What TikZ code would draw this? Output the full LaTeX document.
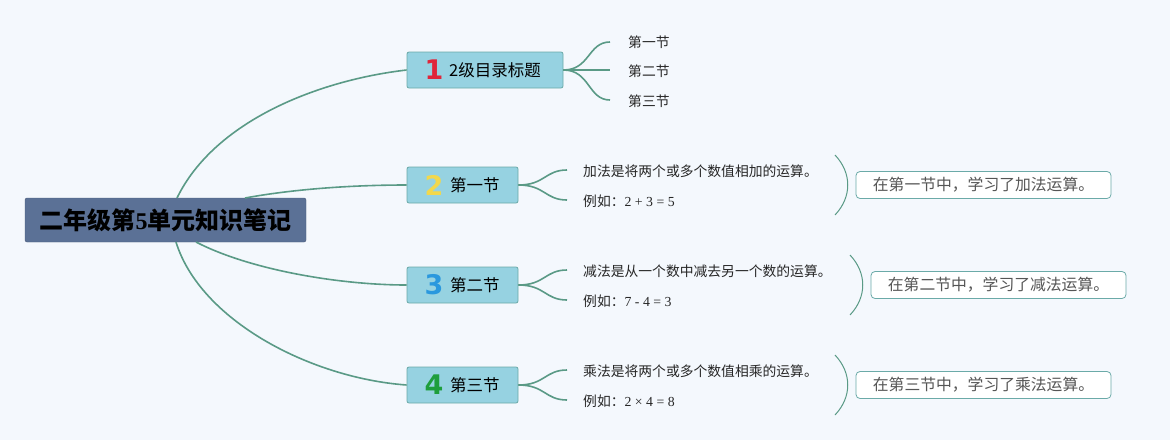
\documentclass[tikz,border=0pt]{standalone}
\usepackage{fontspec}
\setmainfont{Noto Sans CJK SC}
\newfontfamily\cjk{Noto Sans CJK SC}
\newfontfamily\numfont{Liberation Serif}
\newfontfamily\badge{DejaVu Sans}
\definecolor{bg}{HTML}{F4F8FD}
\definecolor{rootfill}{HTML}{5B7196}
\definecolor{boxfill}{HTML}{96D2E1}
\definecolor{boxline}{HTML}{6BAAA8}
\definecolor{link}{HTML}{5A9A86}
\definecolor{sumtext}{HTML}{555555}
\definecolor{nred}{HTML}{E0253A}
\definecolor{nyellow}{HTML}{F2D84C}
\definecolor{nblue}{HTML}{2A98DE}
\definecolor{ngreen}{HTML}{1E9E3C}
\begin{document}
\begin{tikzpicture}[x=1pt,y=-1pt,
  rootbox/.style={fill=rootfill,draw=rootfill!80!black,rounded corners=2pt,minimum width=281pt,minimum height=44pt,inner sep=0pt,font=\cjk\fontsize{24}{27}\selectfont\bfseries},
  topicbox/.style={fill=boxfill,draw=boxline,line width=0.8pt,rounded corners=2pt,minimum height=36pt,inner sep=0pt,font=\cjk\fontsize{16.5}{19}\selectfont},
  sub/.style={anchor=west,inner sep=0pt,font=\cjk\fontsize{13.8}{16}\selectfont,text=black!85},
  sumbox/.style={draw=boxline,fill=white,line width=0.8pt,rounded corners=4pt,minimum width=255pt,minimum height=27pt,inner sep=0pt,font=\cjk\fontsize{15.8}{18}\selectfont,text=sumtext},
  conn/.style={draw=link,line width=1.6pt},
  brace/.style={draw=link,line width=1pt},
  num/.style={font=\badge\fontsize{27}{30}\selectfont\bfseries}]
\fill[bg] (0,0) rectangle (1170,440);
\useasboundingbox (0,0) rectangle (1170,440);

% root
\node[rootbox] (root) at (165.5,220) {二年级第{\numfont\bfseries 5}单元知识笔记};

% topic boxes
\node[topicbox,minimum width=156pt] (t1) at (485,70) {};
\node[num,text=nred] at (434,70) {1};
\node[anchor=west,inner sep=0pt,font=\cjk\fontsize{16.5}{19}\selectfont] at (449,70) {2级目录标题};

\node[topicbox,minimum width=111pt] (t2) at (462.5,185) {};
\node[num,text=nyellow] at (434,185) {2};
\node[anchor=west,inner sep=0pt,font=\cjk\fontsize{16.5}{19}\selectfont] at (450,185) {第一节};

\node[topicbox,minimum width=111pt] (t3) at (462.5,285) {};
\node[num,text=nblue] at (434,285) {3};
\node[anchor=west,inner sep=0pt,font=\cjk\fontsize{16.5}{19}\selectfont] at (450,285) {第二节};

\node[topicbox,minimum width=111pt] (t4) at (462.5,385) {};
\node[num,text=ngreen] at (434,385) {4};
\node[anchor=west,inner sep=0pt,font=\cjk\fontsize{16.5}{19}\selectfont] at (450,385) {第三节};

% root connectors
\coordinate (r1) at (177,198);
\coordinate (r2) at (245,198);
\coordinate (r3) at (196,242);
\coordinate (r4) at (176,242);
\path[conn] (r1) .. controls (215,120) and (320,80) .. (t1.west);
\path[conn] (r2) .. controls (300,188) and (360,185) .. (t2.west);
\path[conn] (r3) .. controls (250,270) and (340,285) .. (t3.west);
\path[conn] (r4) .. controls (200,320) and (310,378) .. (t4.west);

% topic 1 subtopics
\node[sub] (s11) at (628,42) {第一节};
\node[sub] (s12) at (628,71) {第二节};
\node[sub] (s13) at (628,101) {第三节};
\coordinate (e11) at (610,42);
\coordinate (e12) at (610,70);
\coordinate (e13) at (610,100);
\path[conn] (t1.east) .. controls (590,70) and (588,42) .. (e11);
\path[conn] (t1.east) -- (e12);
\path[conn] (t1.east) .. controls (590,70) and (588,100) .. (e13);

% topic 2..4 details
\foreach \t/\y/\a/\b/\s/\bx in {
  2/185/加法是将两个或多个数值相加的运算。/{例如：{\numfont 2 + 3 = 5}}/在第一节中，学习了加法运算。/835,
  3/285/减法是从一个数中减去另一个数的运算。/{例如：{\numfont 7 - 4 = 3}}/在第二节中，学习了减法运算。/850,
  4/385/乘法是将两个或多个数值相乘的运算。/{例如：{\numfont 2 × 4 = 8}}/在第三节中，学习了乘法运算。/835}{
  \node[sub] (a\t) at (583,\y-14) {\a};
  \node[sub] (b\t) at (583,\y+16) {\b};
  \coordinate (ea\t) at (567,\y-15);
  \coordinate (eb\t) at (567,\y+15);
  \path[conn] (t\t.east) .. controls (545,\y) and (545,\y-15) .. (ea\t);
  \path[conn] (t\t.east) .. controls (545,\y) and (545,\y+15) .. (eb\t);
  \coordinate (ba\t) at (\bx,\y-30);
  \coordinate (bb\t) at (\bx,\y+30);
  \path[brace] (ba\t) .. controls (\bx+17,\y-12) and (\bx+17,\y+12) .. (bb\t);
  \node[sumbox] (m\t) at (\bx+148.5,\y) {\s};
}
\end{tikzpicture}
\end{document}
